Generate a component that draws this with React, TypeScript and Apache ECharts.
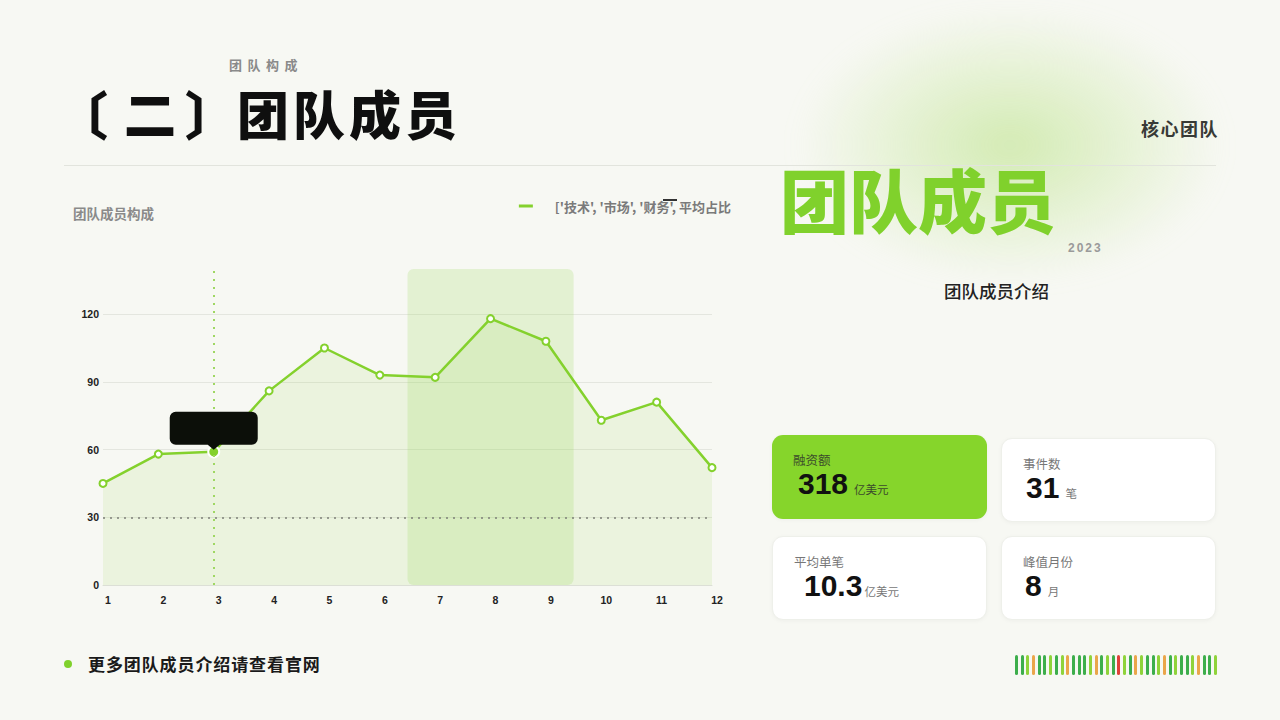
import { useEffect, useRef } from 'react'
import * as echarts from 'echarts'

// 图表数据
const months = ['1', '2', '3', '4', '5', '6', '7', '8', '9', '10', '11', '12']
const members = [45, 58, 59, 86, 105, 93, 92, 118, 108, 73, 81, 52]
const highlightMonth = '3'
const bandMonths = ['7', '9']
const refValue = 30
const legendName = "['技术', '市场', '财务', 平均占比"

// 右侧卡片
const cardLabels = ['融资额', '事件数', '平均单笔', '峰值月份']
const cardValues = ['318', '31', '10.3', '8']
const cardUnits = ['亿美元', '笔', '亿美元', '月']

// 底部装饰条
const barColors = [
  'dg', 'dg', 'lg', 'or', 'dg', 'dg', 'lg', 'dg', 'lg', 'or', 'dg', 'dg',
  'dg', 'lg', 'or', 'dg', 'lg', 'dg', 'rd', 'lg', 'dg', 'or', 'lg', 'dg',
  'dg', 'lg', 'or', 'dg', 'lg', 'dg', 'dg', 'lg', 'or', 'dg', 'dg', 'lg'
]
const palette: Record<string, string> = {
  dg: '#3dae4b',
  lg: '#8fd33a',
  or: '#eaa64a',
  rd: '#df4238'
}

const GREEN = '#84d12d'
const CJK = "'Noto Sans CJK SC', 'Noto Sans', sans-serif"
const NUM = "'Liberation Sans', 'Noto Sans CJK SC', sans-serif"

// 提示框形状（圆角矩形 + 下箭头）
const calloutPath =
  'path://M6 0 H82 A6 6 0 0 1 88 6 V27 A6 6 0 0 1 82 33 H50 L44 38 L38 33 H6 A6 6 0 0 1 0 27 V6 A6 6 0 0 1 6 0 Z'

function MemberChart() {
  const chartRef = useRef<HTMLDivElement>(null)

  useEffect(() => {
    if (!chartRef.current) return
    const chart = echarts.init(chartRef.current, undefined, { renderer: 'svg' })

    const bandStart = months.indexOf(bandMonths[0])
    const bandEnd = months.indexOf(bandMonths[1])

    const option: any = {
      animation: false,
      title: {
        text: '团队成员构成',
        left: 8,
        top: 11,
        textStyle: { fontSize: 13.5, fontWeight: 'bold', color: '#8a8a8a', fontFamily: CJK }
      },
      legend: {
        data: [{ name: legendName, icon: 'rect' }],
        right: 4,
        top: -5,
        itemWidth: 14,
        itemHeight: 3,
        itemGap: 12,
        textStyle: {
          fontSize: 13,
          fontWeight: 'bold',
          color: '#7a7a7a',
          fontFamily: CJK,
          lineHeight: 14,
          padding: [18, 0, 0, 17]
        }
      },
      graphic: [
        { type: 'rect', right: 63, top: 9, shape: { width: 14, height: 2 }, style: { fill: '#333' } }
      ],
      grid: { left: 43, right: 28, top: 79, bottom: 35 },
      xAxis: {
        type: 'category',
        data: months,
        boundaryGap: false,
        axisLine: { lineStyle: { color: '#dcdfd6' } },
        axisTick: { show: false },
        axisLabel: {
          color: '#222',
          fontSize: 10.5,
          fontWeight: 'bold',
          fontFamily: NUM,
          margin: 10,
          padding: [0, 0, 0, 10]
        }
      },
      yAxis: {
        type: 'value',
        min: 0,
        max: 140,
        interval: 30,
        axisLine: { show: false },
        axisTick: { show: false },
        axisLabel: {
          color: '#222',
          fontSize: 10.5,
          fontWeight: 'bold',
          fontFamily: NUM,
          margin: 4,
          showMaxLabel: false
        },
        splitLine: { showMaxLine: false, lineStyle: { color: '#e4e6df' } }
      },
      series: [
        {
          type: 'custom',
          z: 1,
          silent: true,
          data: [[bandStart, bandEnd, 0, 140]],
          encode: { x: [0, 1], y: [2, 3] },
          renderItem: (_params: any, api: any) => {
            const step = api.size([1, 0])[0]
            const p0 = api.coord([api.value(0), api.value(3)])
            const p1 = api.coord([api.value(1), api.value(2)])
            return {
              type: 'rect',
              shape: {
                x: p0[0] - step / 2,
                y: p0[1],
                width: p1[0] - p0[0] + step,
                height: p1[1] - p0[1],
                r: 6
              },
              style: { fill: 'rgba(150, 214, 80, 0.2)' }
            }
          }
        },
        {
          name: legendName,
          type: 'line',
          z: 3,
          data: members.map((v, i) =>
            months[i] === highlightMonth
              ? {
                  value: v,
                  symbol: 'circle',
                  symbolSize: 11,
                  itemStyle: { color: GREEN, borderColor: '#fff', borderWidth: 2 }
                }
              : v
          ),
          symbol: 'emptyCircle',
          symbolSize: 7,
          itemStyle: { color: GREEN, borderWidth: 1.5 },
          lineStyle: { color: GREEN, width: 2.5 },
          areaStyle: { color: 'rgba(140, 210, 60, 0.16)' },
          markLine: {
            silent: true,
            symbol: 'none',
            label: { show: false },
            data: [
              { xAxis: highlightMonth, lineStyle: { color: '#9fd762', type: [2, 6], width: 2 } },
              { yAxis: refValue, lineStyle: { color: '#7d7f78', type: [2, 5], width: 1.5 } }
            ]
          },
          markPoint: {
            silent: true,
            symbol: calloutPath,
            symbolSize: [88, 38],
            symbolKeepAspect: false,
            symbolOffset: [0, -21],
            itemStyle: { color: '#0c0f09' },
            label: { show: false },
            data: [{ coord: [highlightMonth, members[months.indexOf(highlightMonth)]] }]
          }
        }
      ]
    }

    chart.setOption(option)
    return () => chart.dispose()
  }, [])

  return <div ref={chartRef} style={{ position: 'absolute', left: 60, top: 190, width: 680, height: 430 }} />
}

function StatCard({ index, left, top }: { index: number; left: number; top: number }) {
  const active = index === 0
  const valueIndent = [5, 3, 10, 2][index]
  return (
    <div
      style={{
        position: 'absolute',
        left,
        top,
        width: 215,
        height: 84,
        boxSizing: 'border-box',
        borderRadius: 11,
        background: active ? '#86d52b' : '#ffffff',
        border: active ? 'none' : '1px solid #eef0ea',
        boxShadow: '0 1px 4px rgba(0,0,0,0.04)',
        paddingLeft: 21,
        paddingTop: 17
      }}
    >
      <div style={{ fontSize: 12.5, color: active ? '#3b4a2b' : '#777', lineHeight: '16px', fontFamily: CJK }}>
        {cardLabels[index]}
      </div>
      <div style={{ display: 'flex', alignItems: 'baseline', marginLeft: valueIndent, marginTop: 1 }}>
        <span style={{ fontFamily: NUM, fontWeight: 'bold', fontSize: 30, color: '#111', lineHeight: '30px' }}>
          {cardValues[index]}
        </span>
        <span
          style={{
            fontFamily: CJK,
            fontSize: 11.5,
            lineHeight: '14px',
            color: active ? '#3b4a2b' : '#777',
            marginLeft: index === 2 ? 2 : 6
          }}
        >
          {cardUnits[index]}
        </span>
      </div>
    </div>
  )
}

const titleStyle = {
  position: 'absolute' as const,
  top: 80,
  fontSize: 52,
  fontWeight: 900,
  color: '#0f0f0f',
  lineHeight: '66px',
  whiteSpace: 'nowrap' as const
}

export default function App() {
  return (
    <div
      style={{
        position: 'fixed',
        left: 0,
        top: 0,
        width: 1280,
        height: 720,
        overflow: 'hidden',
        background: '#f7f8f3',
        fontFamily: CJK
      }}
    >
      {/* 背景光晕 */}
      <div
        style={{
          position: 'absolute',
          left: 800,
          top: 10,
          width: 420,
          height: 270,
          borderRadius: '50%',
          background:
            'radial-gradient(ellipse at 50% 50%, rgba(175,222,115,0.5) 0%, rgba(195,230,150,0.3) 40%, rgba(247,248,243,0) 72%)',
          filter: 'blur(12px)'
        }}
      />

      <div style={{ position: 'absolute', left: 229, top: 55, fontSize: 13, fontWeight: 'bold', color: '#8a8a8a', letterSpacing: 5.5 }}>
        团队构成
      </div>
      {/* 主标题 */}
      <div style={{ ...titleStyle, left: 56 }}>〔</div>
      <div style={{ ...titleStyle, left: 124 }}>二</div>
      <div style={{ ...titleStyle, left: 185 }}>〕</div>
      <div style={{ ...titleStyle, left: 237, letterSpacing: 4 }}>团队成员</div>
      <div style={{ position: 'absolute', left: 64, top: 165, width: 1152, height: 1, background: '#e2e4dd' }} />

      <div style={{ position: 'absolute', right: 61, top: 115, fontSize: 18, fontWeight: 'bold', color: '#383a36', letterSpacing: 1.5 }}>
        核心团队
      </div>
      <div
        style={{
          position: 'absolute',
          left: 780,
          top: 154,
          fontSize: 69,
          fontWeight: 900,
          color: '#80d12c',
          lineHeight: '88px',
          whiteSpace: 'nowrap'
        }}
      >
        团队成员
      </div>
      <div style={{ position: 'absolute', left: 1068, top: 241, fontSize: 12, fontWeight: 'bold', color: '#9a9a9a', letterSpacing: 2, fontFamily: NUM }}>
        2023
      </div>
      <div style={{ position: 'absolute', left: 944, top: 278, fontSize: 17.5, color: '#222', fontWeight: 500 }}>
        团队成员介绍
      </div>

      <MemberChart />

      <StatCard index={0} left={772} top={435} />
      <StatCard index={1} left={1001} top={438} />
      <StatCard index={2} left={772} top={536} />
      <StatCard index={3} left={1001} top={536} />

      {/* 页脚 */}
      <div style={{ position: 'absolute', left: 64, top: 660, width: 8, height: 8, borderRadius: '50%', background: '#80d12c' }} />
      <div style={{ position: 'absolute', left: 88, top: 651, fontSize: 17, fontWeight: 'bold', color: '#1a1a1a', letterSpacing: 0.9 }}>
        更多团队成员介绍请查看官网
      </div>
      <div style={{ position: 'absolute', left: 1015, top: 655, display: 'flex', gap: 2.7 }}>
        {barColors.map((c, i) => (
          <div key={i} style={{ width: 3, height: 20, borderRadius: 1.5, background: palette[c] }} />
        ))}
      </div>
    </div>
  )
}
